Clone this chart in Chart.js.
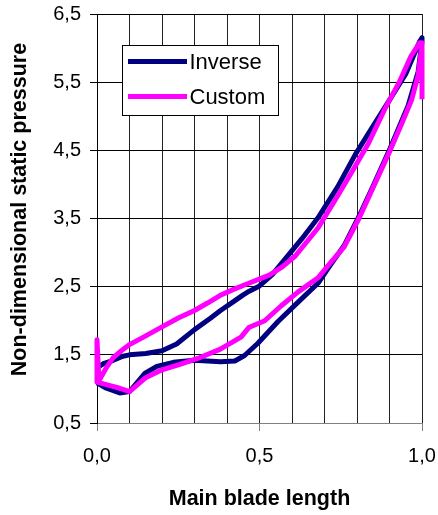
<!DOCTYPE html>
<html>
<head>
<meta charset="utf-8">
<script src="https://cdn.jsdelivr.net/npm/chart.js@4/dist/chart.umd.min.js"></script>
<style>
  html, body { margin: 0; padding: 0; background: #ffffff; }
  #wrap { width: 438px; height: 515px; }
</style>
</head>
<body>
<div id="wrap"><canvas id="c" width="438" height="515"></canvas></div>
<script>
// ---- data ----
const seriesNames = ['Inverse', 'Custom'];
const inverseX = [0, 0.02, 0.05, 0.08, 0.1, 0.15, 0.2, 0.245, 0.3, 0.35, 0.38, 0.42, 0.45, 0.467, 0.5, 0.54, 0.578, 0.63, 0.68, 0.74, 0.795, 0.85, 0.895, 0.95, 0.993, 1.0,
                  1.0, 0.988, 0.957, 0.902, 0.85, 0.806, 0.76, 0.72, 0.68, 0.618, 0.557, 0.495, 0.454, 0.424, 0.38, 0.3, 0.235, 0.184, 0.148, 0.1, 0.07, 0.025, 0];
const inverseY = [1.31, 1.37, 1.42, 1.48, 1.5, 1.52, 1.56, 1.66, 1.87, 2.04, 2.15, 2.28, 2.38, 2.43, 2.51, 2.68, 2.90, 3.20, 3.51, 3.96, 4.44, 4.86, 5.2, 5.62, 6.1, 6.15,
                  6.1, 5.65, 5.15, 4.53, 3.98, 3.53, 3.1, 2.83, 2.55, 2.27, 1.99, 1.67, 1.49, 1.41, 1.40, 1.42, 1.39, 1.33, 1.23, 0.96, 0.94, 1.02, 1.09];
const customX = [1.0, 1.0, 0.993, 0.966, 0.93, 0.885, 0.835, 0.78, 0.73, 0.68, 0.61, 0.57, 0.53, 0.467, 0.42, 0.378, 0.34, 0.3, 0.25, 0.2, 0.143, 0.1, 0.075, 0.05, 0.03, 0.006, 0,
                 0, 0.046, 0.07, 0.1, 0.148, 0.2, 0.255, 0.317, 0.378, 0.443, 0.467, 0.516, 0.567, 0.618, 0.68, 0.72, 0.76, 0.806, 0.85, 0.902, 0.94, 0.968, 0.988, 1.0];
const customY = [5.25, 6.08, 6.08, 5.88, 5.5, 5.1, 4.6, 4.15, 3.75, 3.36, 2.95, 2.79, 2.67, 2.55, 2.46, 2.37, 2.26, 2.15, 2.04, 1.91, 1.76, 1.65, 1.56, 1.46, 1.32, 1.12, 1.72,
                 1.1, 1.04, 1.01, 0.96, 1.16, 1.28, 1.36, 1.46, 1.58, 1.76, 1.9, 2.0, 2.22, 2.42, 2.63, 2.86, 3.08, 3.5, 3.96, 4.5, 4.92, 5.24, 5.6, 6.05];
const xTicks = [0, 0.1, 0.2, 0.3, 0.4, 0.5, 0.6, 0.7, 0.8, 0.9, 1.0];
const xLabelTicks = [0, 0.5, 1.0];
const yTicks = [0.5, 1.5, 2.5, 3.5, 4.5, 5.5, 6.5];
const xTitle = 'Main blade length';
const yTitle = 'Non-dimensional static pressure';
const colors = ['#000080', '#ff00ff'];

const toPts = (xs, ys) => xs.map((x, i) => ({ x: x, y: ys[i] }));
const fmt = v => v.toFixed(1).replace('.', ',');
const isLabelTick = v => xLabelTicks.some(t => Math.abs(t - v) < 1e-6);
const FONT = "'Liberation Sans', Arial, sans-serif";

const boxLegend = {
  id: 'boxLegend',
  afterDraw(chart) {
    const ctx = chart.ctx, a = chart.chartArea;
    const bx = Math.round(a.left + 25) + 0.5, by = Math.round(a.top + 31) + 0.5;
    const bw = 156, bh = 70;
    ctx.save();
    ctx.fillStyle = '#ffffff';
    ctx.fillRect(bx, by, bw, bh);
    ctx.strokeStyle = '#000000';
    ctx.lineWidth = 1;
    ctx.strokeRect(bx, by, bw, bh);
    const rows = [by + 16, by + 51];
    chart.data.datasets.slice().sort((p, q) => seriesNames.indexOf(p.label) - seriesNames.indexOf(q.label)).forEach((ds, i) => {
      ctx.strokeStyle = ds.borderColor;
      ctx.lineWidth = 5;
      ctx.beginPath();
      ctx.moveTo(bx + 5.5, rows[i]);
      ctx.lineTo(bx + 64.5, rows[i]);
      ctx.stroke();
      ctx.fillStyle = '#000000';
      ctx.font = "22px " + FONT;
      ctx.textBaseline = 'middle';
      ctx.textAlign = 'left';
      ctx.fillText(ds.label, bx + 67, rows[i] + 1);
    });
    ctx.restore();
  }
};

new Chart(document.getElementById('c'), {
  type: 'scatter',
  data: {
    datasets: [
      { label: seriesNames[1], data: toPts(customX, customY), borderColor: colors[1], backgroundColor: colors[1],
        showLine: true, borderWidth: 5, pointRadius: 0, tension: 0, borderJoinStyle: 'round', clip: 4, order: 0 },
      { label: seriesNames[0], data: toPts(inverseX, inverseY), borderColor: colors[0], backgroundColor: colors[0],
        showLine: true, borderWidth: 5, pointRadius: 0, tension: 0, borderJoinStyle: 'round', clip: 4, order: 1 }
    ]
  },
  options: {
    responsive: false,
    animation: false,
    events: [],
    layout: { padding: { left: 0, right: 16, top: 14, bottom: 0 } },
    plugins: { legend: { display: false }, tooltip: { enabled: false } },
    scales: {
      x: {
        type: 'linear', min: 0, max: 1,
        afterBuildTicks: s => { s.ticks = xTicks.map(v => ({ value: v })); },
        afterFit: s => { s.height = 92; s.paddingLeft = 0; s.paddingRight = 0; },
        grid: {
          color: '#222222', lineWidth: 1, drawTicks: true, tickLength: 8,
          tickColor: c => (c.tick && isLabelTick(c.tick.value)) ? '#808080' : 'rgba(0,0,0,0)'
        },
        border: { display: true, color: '#808080', width: 1 },
        ticks: {
          autoSkip: false, maxRotation: 0, padding: 13, color: '#000000',
          font: { family: FONT, size: 20 },
          callback: v => isLabelTick(v) ? fmt(v) : ''
        },
        title: { display: true, text: xTitle, color: '#000000', font: { family: FONT, size: 21.5, weight: 'bold' }, padding: { top: 0, bottom: 3 } }
      },
      y: {
        type: 'linear', min: 0.5, max: 6.5,
        afterBuildTicks: s => { s.ticks = yTicks.map(v => ({ value: v })); },
        afterFit: s => { s.width = 97; s.paddingTop = 0; s.paddingBottom = 0; },
        grid: { color: '#000000', lineWidth: 1, drawTicks: true, tickLength: 7, tickColor: '#000000' },
        border: { display: true, color: '#000000', width: 1 },
        ticks: {
          padding: 9, color: '#000000',
          font: { family: FONT, size: 20 },
          callback: v => fmt(v)
        },
        title: { display: true, text: '   ' + yTitle, color: '#000000', font: { family: FONT, size: 21.5, weight: 'bold' }, padding: { top: 7, bottom: 0 } }
      }
    }
  },
  plugins: [boxLegend]
});
</script>
</body>
</html>
